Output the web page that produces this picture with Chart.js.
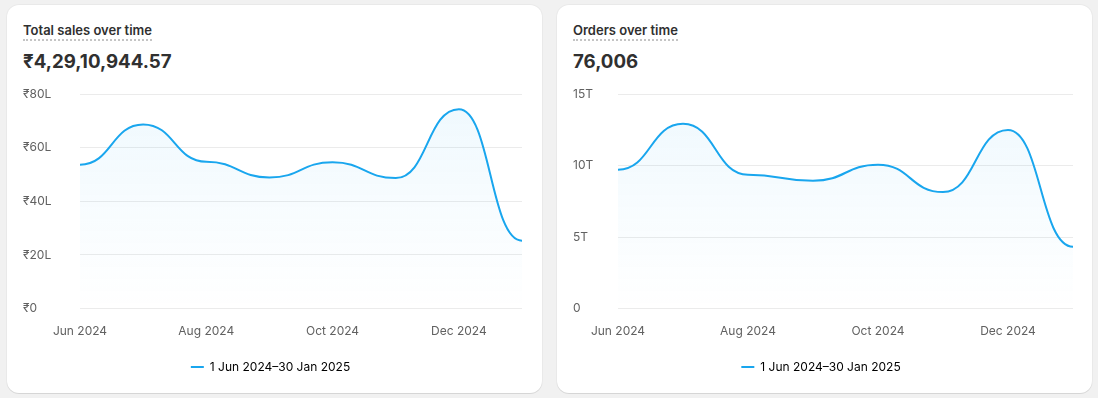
<!DOCTYPE html>
<html>
<head>
<meta charset="utf-8">
<script src="https://cdn.jsdelivr.net/npm/chart.js@4"></script>
<style>
  html, body { margin: 0; padding: 0; }
  body { width: 1098px; height: 398px; background: #f1f1f1; position: relative; overflow: hidden;
         font-family: Inter, "Noto Sans", "DejaVu Sans", sans-serif; }
  .card { position: absolute; top: 5px; height: 388px; background: #fff; border-radius: 12px;
          box-shadow: 0 1px 0 rgba(0,0,0,0.08), 0 0 0 1px rgba(0,0,0,0.03); }
  #c1 { left: 7px; width: 535px; }
  #c2 { left: 557px; width: 535px; }
  .title { position: absolute; left: 16px; top: 16px; font-size: 13px; font-weight: 600; color: #303030;
           border-bottom: 2px dotted #c4c4c4; line-height: 18px; padding-bottom: 0px; }
  .value { position: absolute; left: 16px; top: 44px; font-size: 18.7px; font-weight: 700; color: #303030; line-height: 26px; }
  .cv { position: absolute; left: 16px; top: 82px; }
</style>
</head>
<body>
<div class="card" id="c1">
  <div class="title">Total sales over time</div>
  <div class="value">₹4,29,10,944.57</div>
  <div class="cv" style="width:507px;height:296px;"><canvas id="ch1"></canvas></div>
</div>
<div class="card" id="c2">
  <div class="title">Orders over time</div>
  <div class="value">76,006</div>
  <div class="cv" style="width:508px;height:296px;"><canvas id="ch2"></canvas></div>
</div>
<script>
const months = ["Jun 2024","Jul 2024","Aug 2024","Sep 2024","Oct 2024","Nov 2024","Dec 2024","Jan 2025"];
const salesLakh = [53.7, 68.7, 54.8, 48.9, 54.6, 48.7, 74.4, 25.3];
const ordersThousand = [9.72, 12.93, 9.37, 8.94, 10.07, 8.15, 12.5, 4.33];
const salesTicks = [0, 20, 40, 60, 80];
const orderTicks = [0, 5, 10, 15];
const legendLabel = "1 Jun 2024–30 Jan 2025";

const LINE = '#19a6ee';
const FONT = "Inter, 'Noto Sans', 'DejaVu Sans', sans-serif";

// horizontal-tangent (bump) curve between points
const bumpPlugin = {
  id: 'bump',
  afterDatasetsUpdate(chart) {
    chart.data.datasets.forEach((ds, i) => {
      const meta = chart.getDatasetMeta(i);
      const line = meta.dataset;
      const pts = meta.data;
      if (line && line.updateControlPoints) line.updateControlPoints(chart.chartArea);
      for (let k = 0; k < pts.length; k++) {
        const p = pts[k], prev = pts[k - 1], next = pts[k + 1];
        p.cp1x = prev ? (prev.x + p.x) / 2 : p.x; p.cp1y = p.y;
        p.cp2x = next ? (p.x + next.x) / 2 : p.x; p.cp2y = p.y;
      }
    });
  }
};

// nudge legend slightly left, as in the reference
const legendShift = {
  id: 'legendShift',
  afterLayout(chart) {
    if (chart.legend) { chart.legend.left -= 6; chart.legend.right -= 6; }
  }
};

function makeChart(id, data, ticksArr, fmt, axisWidth) {
  const ctx = document.getElementById(id).getContext('2d');
  return new Chart(ctx, {
    type: 'line',
    plugins: [bumpPlugin, legendShift],
    data: {
      labels: months,
      datasets: [{
        label: legendLabel,
        data: data,
        borderColor: LINE,
        borderWidth: 2,
        pointRadius: 0,
        cubicInterpolationMode: 'monotone',
        fill: 'origin',
        backgroundColor: (c) => {
          const ca = c.chart.chartArea;
          if (!ca) return 'rgba(25,166,238,0.06)';
          const g = c.chart.ctx.createLinearGradient(0, ca.top, 0, ca.bottom);
          g.addColorStop(0, 'rgba(25,166,238,0.07)');
          g.addColorStop(1, 'rgba(25,166,238,0.0)');
          return g;
        }
      }]
    },
    options: {
      responsive: true,
      maintainAspectRatio: false,
      animation: false,
      layout: { padding: { top: 2, right: 0, bottom: 0, left: 0 } },
      plugins: {
        tooltip: { enabled: false },
        legend: {
          position: 'bottom',
          labels: {
            boxWidth: 13, boxHeight: 2, color: '#616161', padding: 14,
            font: { family: FONT, size: 12 },
            generateLabels: (chart) => [{
              text: legendLabel, fillStyle: LINE, strokeStyle: LINE, lineWidth: 0, datasetIndex: 0
            }]
          }
        }
      },
      scales: {
        x: {
          offset: false,
          grid: { display: false },
          border: { display: false },
          ticks: {
            autoSkip: false, maxRotation: 0, color: '#616161', padding: 8,
            font: { family: FONT, size: 12 },
            callback: function(v, i) { return i % 2 === 0 ? this.getLabelForValue(v) : ''; }
          }
        },
        y: {
          min: ticksArr[0], max: ticksArr[ticksArr.length - 1],
          afterBuildTicks: (s) => { s.ticks = ticksArr.map(v => ({ value: v })); },
          afterFit: (s) => { s.width = axisWidth; },
          grid: { color: '#ebebeb', drawTicks: false, lineWidth: 1 },
          border: { display: false },
          ticks: {
            color: '#616161', crossAlign: 'far', padding: 0,
            font: { family: FONT, size: 12 },
            callback: fmt
          }
        }
      }
    }
  });
}

makeChart('ch1', salesLakh, salesTicks, (v) => v === 0 ? '₹0' : '₹' + v + 'L', 57);
makeChart('ch2', ordersThousand, orderTicks, (v) => v === 0 ? '0' : v + 'T', 45);
</script>
</body>
</html>
